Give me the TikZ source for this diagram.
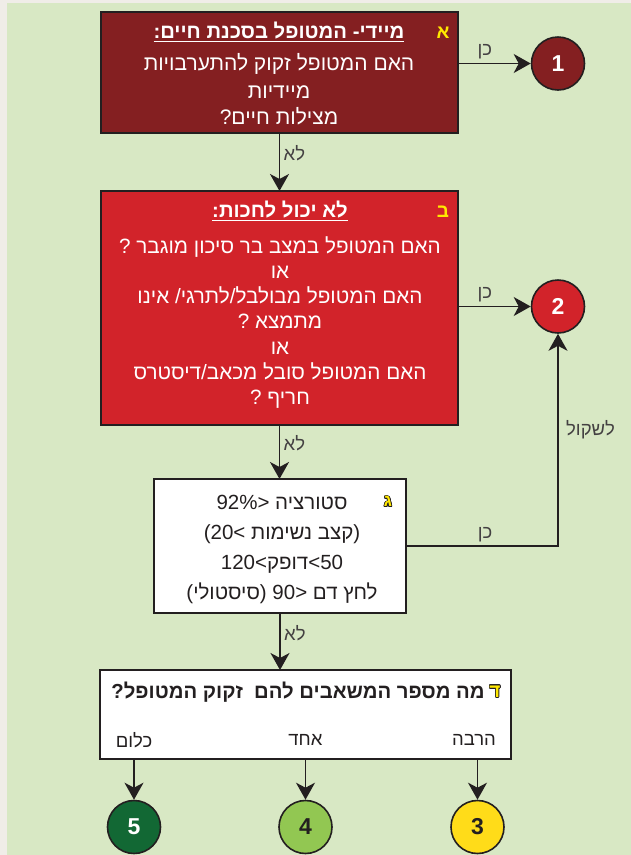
\documentclass[tikz,border=0pt]{standalone}
\usepackage{fontspec}
\setmainfont{Liberation Sans}[Script=Hebrew]
\newfontfamily\ltrfont{Liberation Sans}
\usepackage[copies]{contour}
\contourlength{0.7pt}
\usetikzlibrary{arrows.meta,positioning}
\TeXXeTstate=1

\definecolor{pagebg}{RGB}{240,237,232}
\definecolor{greenbg}{RGB}{216,232,196}
\definecolor{darkred}{RGB}{132,31,33}
\definecolor{brightred}{RGB}{210,35,42}
\definecolor{darkgreen}{RGB}{18,104,52}
\definecolor{lightgreen}{RGB}{146,199,82}
\definecolor{sunyellow}{RGB}{255,220,25}
\definecolor{letteryellow}{RGB}{255,232,0}
\definecolor{ink}{RGB}{35,31,32}

\newcommand{\heb}[1]{\beginR#1\endR}
\newcommand{\ltr}[1]{{\ltrfont\beginL#1\endL}}

\tikzset{
  box/.style={draw=ink, line width=1.6pt, inner sep=0pt, outer sep=0pt},
  level/.style={circle, draw=ink, line width=1.6pt, minimum size=53pt, inner sep=0pt,
    font=\fontsize{23}{23}\selectfont\bfseries},
  arr/.style={line width=1.6pt, draw=ink, -{Stealth[length=17pt,width=19pt,inset=5pt]}},
  lbl/.style={font=\fontsize{18.5}{18.5}\selectfont, text=ink!85},
  txt/.style={align=center, font=\fontsize{21}{25.3}\selectfont},
  title/.style={font=\fontsize{20.3}{20.3}\selectfont\bfseries},
  letter/.style={font=\fontsize{19}{19}\selectfont\bfseries, text=letteryellow},
}

\begin{document}
\begin{tikzpicture}[x=1pt,y=-1pt]
\useasboundingbox (0,0) rectangle (631,855);
\fill[pagebg] (0,0) rectangle (631,855);
\fill[greenbg] (7,3) rectangle (631,855);

% boxes
\node[box, fill=darkred, minimum width=357pt, minimum height=121pt] (boxA) at (279.5,72.5) {};
\node[box, fill=brightred, minimum width=357pt, minimum height=234pt] (boxB) at (279.5,308) {};
\node[box, fill=white, minimum width=252pt, minimum height=134pt] (boxG) at (280,546) {};
\node[box, fill=white, minimum width=411pt, minimum height=89pt] (boxD) at (305.5,714.5) {};

% levels
\node[level, fill=darkred, text=white] (c1) at (558,63.5) {1};
\node[level, fill=brightred, text=white] (c2) at (558,306.5) {2};
\node[level, fill=sunyellow, text=ink] (c3) at (477.5,827) {3};
\node[level, fill=lightgreen, text=ink] (c4) at (305.5,827) {4};
\node[level, fill=darkgreen, text=white] (c5) at (134,827) {5};

% box A
\node[letter] (letA) at (443,33) {א};
\node[title, text=white] (titleA) at (279,32) {\underline{\heb{מיידי- המטופל בסכנת חיים:}}};
\node[txt, text=white] (textA) at (279,89)
  {\heb{האם המטופל זקוק להתערבויות}\\[3pt]\heb{מיידיות}\\\heb{מצילות חיים?}};

% box B
\node[letter] (letB) at (443,212) {ב};
\node[title, text=white] (titleB) at (280,211) {\underline{\heb{לא יכול לחכות:}}};
\node[txt, text=white, font=\fontsize{20.7}{25.3}\selectfont] (textB) at (280,322.5)
  {\heb{האם המטופל במצב בר סיכון מוגבר ?}\\
   \heb{או}\\
   \heb{האם המטופל מבולבל/לתרגי/ אינו}\\
   \heb{מתמצא ?}\\
   \heb{או}\\
   \heb{האם המטופל סובל מכאב/דיסטרס}\\
   \heb{חריף ?}};

% box G
\node[letter, font=\fontsize{17}{17}\selectfont\bfseries] (letG) at (388,502) {\contour{ink}{ג}};
\node[txt, text=ink, font=\fontsize{20.5}{29.7}\selectfont] (textG) at (282,549.5)
  {\heb{סטורציה \ltr{92\%>}}\\
   \heb{\ltr{)}קצב נשימות \ltr{(20<}}\\
   \heb{\ltr{<50}דופק\ltr{120<}}\\
   \heb{לחץ דם \ltr{90>} \ltr{)}סיסטולי\ltr{(}}};

% box D
\node[letter] (letD) at (495,692) {\contour{ink}{ד}};
\node[title, text=ink] (titleD) at (298,692) {\heb{מה מספר המשאבים להם\ \ זקוק המטופל?}};
\node[txt, text=ink, font=\fontsize{18.5}{22}\selectfont] (none) at (134,740) {\heb{כלום}};
\node[txt, text=ink, font=\fontsize{18.5}{22}\selectfont] (one) at (305.5,740) {\heb{אחד}};
\node[txt, text=ink, font=\fontsize{18.5}{22}\selectfont] (many) at (474,740) {\heb{הרבה}};

% connectors
\draw[arr] (boxA.east |- c1) -- node[lbl, above, pos=0.37] (yesA) {\heb{כן}} (c1);
\draw[arr] (boxA.south) -- node[lbl, right, pos=0.34] (noA) {\heb{לא}} (boxA.south |- boxB.north);
\draw[arr] (boxB.east |- c2) -- node[lbl, above, pos=0.37] (yesB) {\heb{כן}} (c2);
\draw[arr] (boxB.south) -- node[lbl, right, pos=0.33] (noB) {\heb{לא}} (boxB.south |- boxG.north);
\draw[arr] (boxG.east) -- node[lbl, above, pos=0.52] (yesG) {\heb{כן}} (boxG.east -| c2)
  -- node[lbl, right, pos=0.55, xshift=4pt] (considerG) {\heb{לשקול}} (c2);
\draw[arr] (boxG.south) -- node[lbl, right, pos=0.35] (noG) {\heb{לא}} (boxG.south |- boxD.north);
\draw[arr] (boxD.south -| c5) -- (c5);
\draw[arr] (boxD.south -| c4) -- (c4);
\draw[arr] (boxD.south -| c3) -- (c3);
\end{tikzpicture}
\end{document}
